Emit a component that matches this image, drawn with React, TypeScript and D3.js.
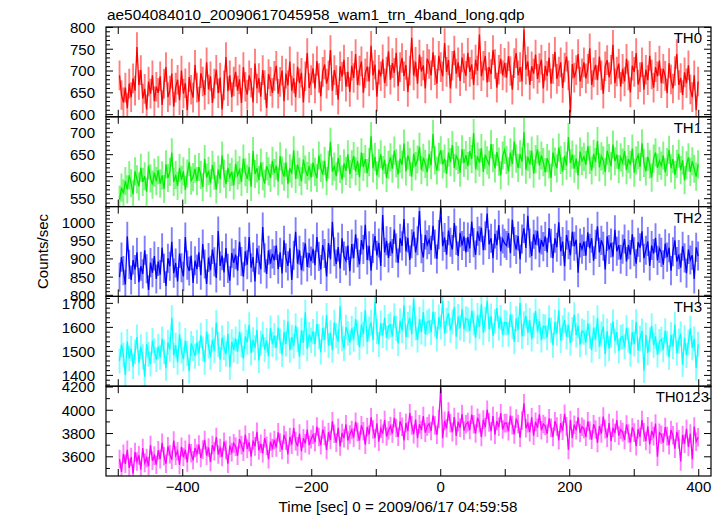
import React from "react";
import * as d3 from "d3";

const TITLE = "ae504084010_20090617045958_wam1_trn_4band_long.qdp";
const X_TITLE = "Time [sec] 0 = 2009/06/17 04:59:58";
const Y_TITLE = "Counts/sec";
const T_START = -498;
const T_STEP = 3;

const TH0 = [
  690, 645, 628, 662, 615, 671, 640, 683, 655, 755, 668, 702, 637, 659, 612, 676, 648, 690, 631, 664,
  650, 688, 622, 671, 709, 640, 655, 694, 618, 662, 680, 633, 701, 648, 672, 610, 686, 657, 639, 714,
  662, 630, 695, 676, 645, 720, 658, 688, 627, 671, 703, 649, 685, 612, 667, 732, 654, 690, 640, 676,
  698, 655, 681, 627, 709, 664, 646, 690, 673, 628, 717, 660, 684, 641, 702, 668, 615, 693, 676, 650,
  689, 712, 648, 675, 701, 631, 694, 667, 722, 655, 683, 640, 710, 672, 696, 628, 688, 741, 661, 679,
  706, 660, 723, 684, 642, 698, 715, 671, 690, 748, 655, 702, 679, 634, 711, 687, 726, 664, 698, 652,
  712, 684, 739, 668, 701, 722, 650, 695, 710, 676, 758, 690, 715, 641, 703, 688, 727, 672, 699, 745,
  680, 718, 696, 742, 665, 709, 730, 688, 714, 652, 701, 776, 690, 721, 671, 738, 699, 713, 660, 728,
  716, 690, 743, 702, 671, 735, 709, 688, 764, 698, 725, 660, 712, 747, 694, 720, 677, 731, 706, 689,
  742, 698, 715, 668, 726, 701, 784, 688, 712, 735, 674, 709, 693, 748, 716, 662, 703, 728, 690, 719,
  685, 734, 700, 657, 718, 741, 690, 709, 676, 795, 703, 722, 668, 711, 694, 738, 682, 707, 726, 660,
  712, 689, 731, 671, 705, 744, 682, 699, 720, 661, 708, 733, 690, 605, 716, 685, 702, 739, 676, 695,
  720, 683, 705, 752, 668, 697, 714, 679, 733, 690, 648, 711, 725, 686, 703, 760, 672, 699, 717, 664,
  705, 676, 728, 690, 651, 712, 698, 741, 669, 686, 720, 657, 703, 679, 735, 692, 662, 709, 688, 724,
  672, 705, 689, 649, 718, 681, 660, 700, 739, 668, 684, 645, 697, 672, 713, 658, 640, 690, 610, 676,
];

const TH1 = [
  548, 575, 562, 590, 571, 603, 585, 560, 612, 594, 578, 620, 588, 601, 566, 625, 596, 582, 609, 590,
  615, 584, 603, 572, 628, 597, 611, 655, 588, 604, 579, 620, 593, 612, 570, 607, 633, 591, 599, 618,
  590, 622, 604, 576, 640, 598, 613, 585, 627, 602, 571, 616, 595, 648, 607, 583, 620, 599, 611, 580,
  629, 603, 615, 588, 641, 610, 595, 622, 577, 658, 606, 619, 592, 632, 601, 584, 624, 612, 597, 636,
  608, 625, 589, 646, 614, 600, 632, 583, 619, 607, 660, 595, 627, 611, 590, 639, 616, 602, 624, 598,
  632, 611, 597, 648, 620, 605, 636, 590, 627, 679, 612, 623, 601, 642, 617, 594, 630, 613, 651, 606,
  628, 647, 612, 636, 599, 655, 622, 640, 608, 633, 692, 619, 645, 603, 630, 651, 615, 638, 597, 627,
  644, 618, 659, 630, 605, 641, 627, 675, 612, 648, 633, 600, 652, 624, 639, 668, 615, 643, 629, 610,
  651, 626, 697, 637, 614, 645, 660, 628, 641, 606, 655, 633, 672, 620, 647, 638, 609, 662, 631, 649,
  624, 658, 640, 699, 617, 646, 632, 665, 611, 650, 637, 627, 674, 642, 619, 656, 634, 603, 648, 661,
  638, 612, 655, 629, 680, 641, 620, 651, 634, 701, 616, 645, 628, 659, 607, 640, 662, 625, 648, 633,
  610, 642, 628, 597, 655, 634, 619, 666, 638, 612, 647, 625, 690, 631, 650, 618, 641, 603, 657, 636,
  645, 627, 669, 638, 614, 652, 633, 681, 621, 646, 637, 611, 659, 642, 624, 673, 635, 650, 617, 644,
  632, 658, 615, 640, 627, 664, 609, 637, 649, 622, 676, 631, 612, 645, 628, 598, 641, 655, 620, 636,
  625, 648, 610, 633, 661, 619, 640, 604, 629, 652, 615, 637, 592, 626, 644, 611, 635, 618, 600, 628,
];

const TH2 = [
  850, 905, 868, 830, 962, 885, 842, 897, 871, 918, 836, 880, 859, 924, 873, 815, 890, 862, 908, 845,
  893, 857, 931, 874, 826, 902, 880, 947, 861, 889, 838, 915, 876, 852, 960, 883, 867, 909, 834, 895,
  872, 918, 855, 941, 886, 831, 904, 869, 926, 892, 848, 977, 881, 909, 863, 930, 874, 840, 916, 889,
  912, 868, 947, 893, 851, 921, 884, 960, 876, 905, 838, 929, 897, 872, 988, 903, 859, 924, 887, 914,
  896, 937, 872, 918, 860, 951, 903, 881, 929, 842, 910, 975, 887, 924, 869, 906, 943, 878, 916, 894,
  928, 883, 960, 907, 871, 938, 915, 852, 944, 899, 1002, 920, 886, 933, 874, 957, 908, 895, 937, 866,
  941, 902, 968, 917, 885, 952, 926, 994, 897, 936, 868, 929, 963, 910, 944, 881, 1021, 918, 950, 903,
  948, 915, 981, 930, 889, 957, 936, 1010, 921, 958, 897, 942, 975, 918, 950, 1032, 928, 904, 966, 939,
  953, 924, 991, 941, 900, 967, 1040, 935, 959, 912, 978, 946, 926, 999, 951, 908, 972, 937, 962, 918,
  960, 929, 1003, 945, 911, 976, 950, 986, 924, 964, 1025, 940, 957, 902, 969, 938, 993, 921, 955, 943,
  937, 971, 916, 1008, 948, 926, 963, 899, 955, 984, 930, 1019, 944, 908, 968, 939, 977, 917, 952, 934,
  962, 918, 985, 943, 902, 957, 932, 1001, 921, 948, 880, 966, 939, 910, 975, 935, 953, 862, 944, 927,
  948, 909, 973, 929, 957, 895, 940, 990, 918, 951, 935, 871, 962, 926, 944, 906, 980, 921, 938, 899,
  927, 955, 893, 939, 912, 968, 920, 887, 946, 931, 976, 902, 924, 948, 881, 937, 915, 958, 896, 929,
  918, 884, 942, 905, 931, 868, 920, 951, 893, 912, 876, 935, 903, 861, 926, 897, 910, 845, 932, 908,
];

const TH3 = [
  1460, 1528, 1485, 1402, 1541, 1470, 1512, 1437, 1498, 1560, 1452, 1519, 1478, 1395, 1530, 1488, 1447, 1545, 1503, 1466,
  1520, 1475, 1552, 1498, 1430, 1537, 1509, 1640, 1483, 1526, 1455, 1571, 1502, 1468, 1545, 1491, 1418, 1533, 1512, 1480,
  1538, 1492, 1567, 1510, 1455, 1583, 1521, 1476, 1548, 1503, 1620, 1529, 1466, 1557, 1515, 1488, 1574, 1433, 1540, 1506,
  1552, 1499, 1581, 1527, 1470, 1562, 1538, 1611, 1493, 1548, 1515, 1590, 1462, 1534, 1571, 1507, 1546, 1480, 1597, 1529,
  1566, 1514, 1598, 1543, 1487, 1580, 1531, 1625, 1505, 1559, 1522, 1607, 1549, 1478, 1588, 1536, 1663, 1511, 1570, 1545,
  1583, 1530, 1615, 1562, 1497, 1597, 1548, 1650, 1524, 1578, 1505, 1620, 1566, 1541, 1689, 1553, 1512, 1601, 1575, 1536,
  1596, 1550, 1634, 1578, 1517, 1612, 1571, 1671, 1540, 1593, 1621, 1548, 1705, 1583, 1529, 1618, 1566, 1641, 1556, 1604,
  1611, 1562, 1648, 1595, 1533, 1627, 1586, 1692, 1559, 1612, 1640, 1571, 1718, 1598, 1547, 1634, 1581, 1664, 1572, 1620,
  1627, 1579, 1665, 1613, 1552, 1643, 1601, 1710, 1574, 1630, 1659, 1588, 1622, 1684, 1561, 1645, 1597, 1676, 1591, 1636,
  1632, 1585, 1669, 1618, 1556, 1650, 1603, 1696, 1578, 1634, 1711, 1592, 1647, 1565, 1625, 1680, 1596, 1641, 1570, 1621,
  1618, 1571, 1654, 1603, 1540, 1637, 1590, 1702, 1562, 1615, 1648, 1578, 1629, 1551, 1609, 1668, 1583, 1626, 1547, 1604,
  1602, 1557, 1640, 1588, 1526, 1622, 1575, 1671, 1545, 1598, 1630, 1560, 1611, 1534, 1591, 1653, 1568, 1607, 1528, 1585,
  1580, 1536, 1617, 1563, 1505, 1598, 1549, 1640, 1520, 1572, 1603, 1489, 1585, 1511, 1567, 1624, 1543, 1580, 1502, 1558,
  1562, 1519, 1598, 1546, 1488, 1580, 1531, 1623, 1503, 1555, 1585, 1420, 1568, 1494, 1549, 1607, 1526, 1563, 1485, 1541,
  1551, 1507, 1586, 1534, 1476, 1569, 1520, 1612, 1492, 1543, 1574, 1445, 1557, 1483, 1538, 1596, 1515, 1552, 1430, 1530,
];

const TH0123 = [
  3580, 3470, 3625, 3540, 3660, 3505, 3598, 3455, 3640, 3560, 3612, 3490, 3675, 3548, 3590, 3520, 3700, 3566, 3610, 3532,
  3655, 3580, 3720, 3605, 3540, 3690, 3622, 3575, 3740, 3610, 3648, 3530, 3685, 3598, 3660, 3552, 3712, 3630, 3570, 3676,
  3628, 3705, 3590, 3662, 3745, 3610, 3680, 3555, 3700, 3648, 3770, 3620, 3675, 3598, 3730, 3660, 3540, 3696, 3640, 3715,
  3688, 3610, 3752, 3700, 3645, 3790, 3668, 3725, 3602, 3740, 3690, 3815, 3655, 3712, 3630, 3760, 3695, 3580, 3730, 3676,
  3745, 3680, 3810, 3722, 3660, 3788, 3740, 3620, 3770, 3705, 3850, 3735, 3690, 3800, 3648, 3760, 3715, 3835, 3700, 3752,
  3790, 3725, 3860, 3770, 3700, 3835, 3780, 3660, 3812, 3745, 3905, 3798, 3722, 3850, 3690, 3805, 3760, 3880, 3740, 3792,
  3830, 3765, 3900, 3812, 3740, 3870, 3820, 3705, 3856, 3790, 3940, 3835, 3760, 3888, 3730, 3842, 3798, 3915, 3775, 3826,
  3865, 3800, 3935, 3848, 3772, 3905, 3858, 3740, 3890, 3822, 3975, 3870, 3795, 3920, 3760, 3880, 3830, 3950, 3808, 3862,
  3885, 3822, 3955, 3870, 3790, 3925, 4190, 3760, 3910, 3845, 3990, 3888, 3812, 3942, 3780, 3900, 3850, 3968, 3826, 3880,
  3898, 3830, 3962, 3880, 3800, 3935, 3890, 3770, 3920, 3855, 4005, 3896, 3820, 3950, 3790, 3908, 3858, 3975, 3835, 3890,
  3890, 3820, 3955, 3872, 3792, 3928, 3882, 3765, 3912, 4060, 3846, 3888, 3812, 3940, 3782, 3900, 3850, 3966, 3828, 3882,
  3865, 3798, 3930, 3850, 3770, 3905, 3860, 3742, 3890, 3825, 3970, 3862, 3660, 3915, 3760, 3876, 3828, 3940, 3805, 3858,
  3840, 3772, 3905, 3826, 3748, 3880, 3835, 3720, 3865, 3800, 3945, 3838, 3764, 3890, 3735, 3850, 3805, 3915, 3782, 3834,
  3812, 3745, 3878, 3800, 3722, 3852, 3808, 3692, 3838, 3772, 3915, 3810, 3736, 3862, 3706, 3822, 3778, 3885, 3600, 3806,
  3790, 3722, 3855, 3778, 3700, 3830, 3785, 3670, 3815, 3750, 3560, 3788, 3712, 3840, 3684, 3800, 3580, 3860, 3730, 3768,
];

const SERIES = [TH0, TH1, TH2, TH3, TH0123];
const PANEL_NAMES = ["TH0", "TH1", "TH2", "TH3", "TH0123"];
const PANEL_COLORS = ["#ff0000", "#00ee00", "#0000ff", "#00ffff", "#ff00ff"];
const Y_DOMAINS = [
  [595, 801],
  [532, 736],
  [797, 1044],
  [1355, 1729],
  [3435, 4207],
];
const Y_MAJOR = [
  [600, 650, 700, 750, 800],
  [550, 600, 650, 700],
  [800, 850, 900, 950, 1000],
  [1400, 1500, 1600, 1700],
  [3600, 3800, 4000, 4200],
];
const Y_MINOR_STEP = [10, 10, 10, 20, 100];
const ERRORS = [34, 32, 40, 52, 80];
const X_TICKS = [-500, -400, -300, -200, -100, 0, 100, 200, 300, 400];
const X_LABELS = [-400, -200, 0, 200, 400];

const W = 723;
const H = 516;
const LEFT = 106;
const RIGHT = 711;
const TOP = 27;
const BOTTOM = 476;
const FONT = "'Liberation Sans', Arial, Helvetica, sans-serif";

export default function App() {
  const x = d3.scaleLinear().domain([-519, 419]).range([LEFT, RIGHT]);
  const panelH = (BOTTOM - TOP) / SERIES.length;

  return (
    <svg
      width={W}
      height={H}
      style={{ position: "absolute", left: 0, top: 0, background: "#fff" }}
      fontFamily={FONT}
    >
      <rect x={0} y={0} width={W} height={H} fill="#fff" />
      <text x={107} y={20} fontSize={15.4} fill="#000">{TITLE}</text>
      {SERIES.map((vals, p) => {
        const y0 = TOP + p * panelH;
        const y1 = y0 + panelH;
        const y = d3.scaleLinear().domain(Y_DOMAINS[p]).range([y1, y0]);
        const pts = vals.map((v, i) => [T_START + i * T_STEP, v] as [number, number]);
        const line = d3
          .line<[number, number]>()
          .x((d) => x(d[0]))
          .y((d) => y(d[1]));
        const err = ERRORS[p];
        const clip = `clip${p}`;
        const [dmin, dmax] = Y_DOMAINS[p];
        const step = Y_MINOR_STEP[p];
        const minors = d3.range(Math.ceil(dmin / step) * step, dmax + 0.001, step);
        const majors = Y_MAJOR[p];
        const errPath = pts
          .map((d) => `M${x(d[0]).toFixed(2)},${y(d[1] - err).toFixed(2)}V${y(d[1] + err).toFixed(2)}`)
          .join("");
        return (
          <g key={p}>
            <defs>
              <clipPath id={clip}>
                <rect x={LEFT} y={y0} width={RIGHT - LEFT} height={panelH} />
              </clipPath>
            </defs>
            <g clipPath={`url(#${clip})`}>
              <path d={errPath} stroke={PANEL_COLORS[p]} strokeOpacity={0.5} strokeWidth={1.9} fill="none" />
              <path d={line(pts) || ""} stroke={PANEL_COLORS[p]} strokeWidth={1.3} fill="none" />
            </g>
            {minors.map((v) => {
              const isMajor = majors.some((m) => Math.abs(m - v) < 1e-6) || (v % (step * (p === 4 ? 2 : 5)) === 0);
              const len = isMajor ? 7 : 4;
              return (
                <g key={`yt${v}`} stroke="#000" strokeWidth={1}>
                  <line x1={LEFT} x2={LEFT + len} y1={y(v)} y2={y(v)} />
                  <line x1={RIGHT} x2={RIGHT - len} y1={y(v)} y2={y(v)} />
                </g>
              );
            })}
            {X_TICKS.filter((t) => x(t) > LEFT + 1 && x(t) < RIGHT - 1).map((t) => (
              <g key={`xt${t}`} stroke="#000" strokeWidth={1}>
                <line x1={x(t)} x2={x(t)} y1={y0} y2={y0 + 7} />
                <line x1={x(t)} x2={x(t)} y1={y1} y2={y1 - 7} />
              </g>
            ))}
            <rect x={LEFT} y={y0} width={RIGHT - LEFT} height={panelH} fill="none" stroke="#000" strokeWidth={1.2} />
            {majors.map((v) => (
              <text
                key={`yl${v}`}
                x={95}
                y={y(v)}
                dy="0.36em"
                textAnchor="end"
                fontSize={15}
                fill="#000"
              >
                {v}
              </text>
            ))}
            <text
              x={PANEL_NAMES[p].length > 3 ? 709 : 702}
              y={y0 + 16}
              textAnchor="end"
              fontSize={15}
              fill="#000"
            >
              {PANEL_NAMES[p]}
            </text>
          </g>
        );
      })}
      {X_LABELS.map((t) => (
        <text key={`xl${t}`} x={x(t)} y={492} textAnchor="middle" fontSize={15} fill="#000">
          {t < 0 ? `\u2212${Math.abs(t)}` : `${t}`}
        </text>
      ))}
      <text x={398} y={512} textAnchor="middle" fontSize={15.2} fill="#000">{X_TITLE}</text>
      <text
        transform={`translate(48,${(TOP + BOTTOM) / 2}) rotate(-90)`}
        textAnchor="middle"
        fontSize={15}
        fill="#000"
      >
        {Y_TITLE}
      </text>
    </svg>
  );
}
